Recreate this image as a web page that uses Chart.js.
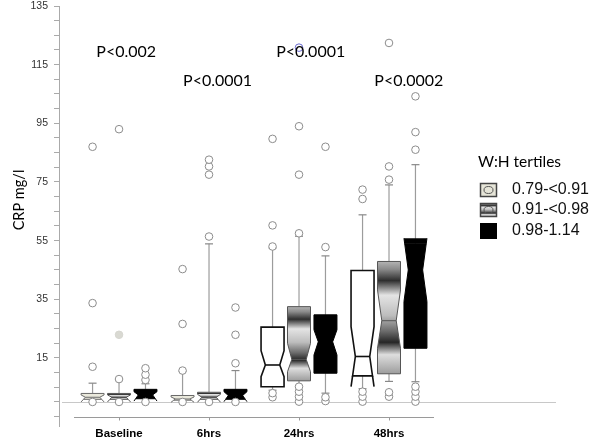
<!DOCTYPE html>
<html><head><meta charset="utf-8">
<script src="https://cdn.jsdelivr.net/npm/chart.js@4.4.1/dist/chart.umd.min.js"></script>
<style>html,body{margin:0;padding:0;background:#fff;}#wrap{width:600px;height:438px;position:relative;}</style>
</head><body><div id="wrap"><canvas id="c" width="600" height="438"></canvas></div>
<script>
// ---------- DATA ----------
const categories = ['Baseline', '6hrs', '24hrs', '48hrs'];
const seriesNames = ['0.79-<0.91', '0.91-<0.98', '0.98-1.14'];
const legendTitle = 'W:H tertiles';
const yTitle = 'CRP mg/l';
const yTickLabels = [15, 35, 55, 75, 95, 115, 135];
const pLabels = ['P<0.002', 'P<0.0001', 'P<0.0001', 'P<0.0002'];
const pLevels = [119.5, 109.5, 119.5, 109.5];

// series 1: 0.79-<0.91
const s1WhiskLow = [0.9, 0.6, 4.0, 4.5];
const s1Q1       = [0.9, 0.6, 5.2, 8.9];
const s1NotchLow = [0.0, -0.1, 8.6, 5.2];
const s1Median   = [1.6, 1.0, 12.6, 15.5];
const s1NotchHigh= [2.4, 1.7, 17.5, 25.7];
const s1Q3       = [2.9, 2.2, 25.5, 44.8];
const s1WhiskHigh= [6.4, 10.5, 52.5, 63.8];
const s1Outliers = [[0, 12, 33.7, 87], [0, 10.7, 26.6, 45.3], [1.6, 3, 53, 60.2, 89.7], [0.1, 1.8, 3.5, 69.2, 72.4]];

// series 2: 0.91-<0.98
const s2WhiskLow = [0.9, 0.9, 5.5, 7.0];
const s2Q1       = [0.9, 0.9, 7.2, 9.6];
const s2NotchLow = [0.0, -0.1, 10.3, 18.3];
const s2Median   = [1.6, 1.6, 14.5, 27.7];
const s2NotchHigh= [2.4, 2.6, 20.0, 38.2];
const s2Q3       = [2.9, 3.3, 32.5, 47.9];
const s2WhiskHigh= [7.5, 53.9, 56.5, 74.0];
const s2Outliers = [[0, 7.8, 22.9, 93], [0, 56.4, 77.5, 80.3, 82.6], [0.1, 1.8, 3.5, 5.2, 57.5, 77.5, 94, 120.8], [1.8, 3.3, 75.8, 80.3, 122.4]];

// series 3: 0.98-1.14
const s3WhiskLow = [1.1, 0.9, 3.0, 6.9];
const s3Q1       = [1.1, 0.9, 9.8, 18.3];
const s3NotchLow = [0.3, 0.1, 16.0, 34.2];
const s3Median   = [2.4, 2.2, 20.5, 45.0];
const s3NotchHigh= [3.5, 3.5, 24.6, 55.8];
const s3Q3       = [4.3, 4.3, 29.7, 53.9];
const s3WhiskHigh= [6.2, 10.7, 49.8, 80.9];
const s3Outliers = [[0, 7.5, 9.3, 11.5], [0, 13.2, 22.9, 32.2], [0.3, 1.6, 52.8, 87], [0.1, 1.8, 3.5, 5.2, 86, 92, 104.2]];

// highlighted outliers: [group, series, value]
const filledOutliers = [[0, 1, 22.9]];
const blueOutliers = [[2, 1, 120.8]];

// ---------- BUILD ----------
const seriesOffset = [-0.294, 0, 0.294];
const boxes = [
  {wl: s1WhiskLow, q1: s1Q1, nl: s1NotchLow, md: s1Median, nh: s1NotchHigh, q3: s1Q3, wh: s1WhiskHigh, out: s1Outliers},
  {wl: s2WhiskLow, q1: s2Q1, nl: s2NotchLow, md: s2Median, nh: s2NotchHigh, q3: s2Q3, wh: s2WhiskHigh, out: s2Outliers},
  {wl: s3WhiskLow, q1: s3Q1, nl: s3NotchLow, md: s3Median, nh: s3NotchHigh, q3: s3Q3, wh: s3WhiskHigh, out: s3Outliers}
];
function kindOf(g, s, v) {
  if (filledOutliers.some(a => a[0] === g && a[1] === s && a[2] === v)) return 'filled';
  if (blueOutliers.some(a => a[0] === g && a[1] === s && a[2] === v)) return 'blue';
  return 'plain';
}
const datasets = boxes.map((b, s) => ({
  label: seriesNames[s],
  data: b.out.flatMap((list, g) => list.map(v => ({x: g + seriesOffset[s], y: v, kind: kindOf(g, s, v)}))),
  pointRadius: 3.8,
  pointBorderWidth: 1,
  pointBorderColor: ctx => (ctx.raw && ctx.raw.kind === 'blue') ? '#6b6bd0' : (ctx.raw && ctx.raw.kind === 'filled' ? '#d6d6d0' : '#8c8c8c'),
  pointBackgroundColor: ctx => (ctx.raw && ctx.raw.kind === 'filled') ? '#d9d9d2' : 'rgba(255,255,255,1)'
}));

function s2Gradient(ctx, top, bottom) {
  const g = ctx.createLinearGradient(0, top, 0, bottom);
  g.addColorStop(0, '#b4b4b4');
  g.addColorStop(0.07, '#8a8a8a');
  g.addColorStop(0.17, '#2e2e2e');
  g.addColorStop(0.3, '#e4e4e4');
  g.addColorStop(0.48, '#bdbdbd');
  g.addColorStop(0.62, '#6c6c6c');
  g.addColorStop(0.72, '#262626');
  g.addColorStop(0.83, '#dedede');
  g.addColorStop(1, '#9c9c9c');
  return g;
}

const HW = 11.5, IND = 4.3;
const boxPlugin = {
  id: 'boxes',
  beforeDatasetsDraw(chart) {
    const ctx = chart.ctx, xs = chart.scales.x, ys = chart.scales.y;
    ctx.save();
    // zero reference line
    ctx.strokeStyle = '#c8c8c8'; ctx.lineWidth = 1;
    const y0 = Math.round(ys.getPixelForValue(0)) + 0.5;
    ctx.beginPath(); ctx.moveTo(62, y0); ctx.lineTo(556, y0); ctx.stroke();
    // x axis line
    const ya = Math.round(ys.getPixelForValue(-5)) + 0.5;
    ctx.strokeStyle = '#9a9a9a';
    ctx.beginPath(); ctx.moveTo(xs.getPixelForValue(-0.5), ya); ctx.lineTo(xs.getPixelForValue(3.5), ya); ctx.stroke();
    categories.forEach((c, i) => {
      const px = Math.round(xs.getPixelForValue(i)) + 0.5;
      ctx.beginPath(); ctx.moveTo(px, ya); ctx.lineTo(px, ya + 3); ctx.stroke();
    });
    boxes.forEach((b, s) => {
      categories.forEach((c, g) => {
        const cx = xs.getPixelForValue(g + seriesOffset[s]);
        const Y = v => ys.getPixelForValue(v);
        const q1 = b.q1[g], q3 = b.q3[g], md = b.md[g], nl = b.nl[g], nh = b.nh[g];
        const w = v => {
          if (v >= nl && v <= md) return HW - IND * (v - nl) / (md - nl);
          if (v > md && v <= nh) return HW - IND * (nh - v) / (nh - md);
          return HW;
        };
        // whiskers
        ctx.strokeStyle = '#9c9c9c'; ctx.lineWidth = 1.2;
        ctx.beginPath(); ctx.moveTo(cx, Y(q3)); ctx.lineTo(cx, Y(b.wh[g])); ctx.stroke();
        ctx.strokeStyle = '#888';
        ctx.beginPath(); ctx.moveTo(cx - 4, Y(b.wh[g])); ctx.lineTo(cx + 4, Y(b.wh[g])); ctx.stroke();
        if (b.wl[g] < q1 - 0.05) {
          ctx.strokeStyle = '#9c9c9c';
          ctx.beginPath(); ctx.moveTo(cx, Y(q1)); ctx.lineTo(cx, Y(b.wl[g])); ctx.stroke();
          ctx.strokeStyle = '#888';
          ctx.beginPath(); ctx.moveTo(cx - 4, Y(b.wl[g])); ctx.lineTo(cx + 4, Y(b.wl[g])); ctx.stroke();
        }
        // box polygon
        const vals = [q3];
        if (nh < q3 && nh > q1) vals.push(nh);
        if (md < q3 && md > q1) vals.push(md);
        if (nl > q1 && nl < q3) vals.push(nl);
        vals.push(q1);
        ctx.beginPath();
        vals.forEach((v, i) => { const p = [cx - w(v), Y(v)]; i ? ctx.lineTo(p[0], p[1]) : ctx.moveTo(p[0], p[1]); });
        vals.slice().reverse().forEach(v => ctx.lineTo(cx + w(v), Y(v)));
        ctx.closePath();
        let fill, stroke, lw = 1;
        if (s === 0) { fill = g < 2 ? '#eae9dc' : '#ffffff'; stroke = g < 2 ? '#6a6a6a' : '#111'; lw = g < 2 ? 1 : 1.6; }
        else if (s === 1) { fill = s2Gradient(ctx, Y(q3), Y(q1)); stroke = '#555'; }
        else { fill = '#000'; stroke = '#000'; }
        ctx.fillStyle = fill; ctx.fill();
        ctx.strokeStyle = stroke; ctx.lineWidth = lw; ctx.stroke();
        // notch extensions beyond the hinges
        ctx.beginPath();
        if (nh > q3) {
          ctx.moveTo(cx - w(q3), Y(q3)); ctx.lineTo(cx - HW, Y(nh));
          ctx.moveTo(cx + w(q3), Y(q3)); ctx.lineTo(cx + HW, Y(nh));
        }
        if (nl < q1) {
          ctx.moveTo(cx - w(q1), Y(q1)); ctx.lineTo(cx - HW, Y(nl));
          ctx.moveTo(cx + w(q1), Y(q1)); ctx.lineTo(cx + HW, Y(nl));
        }
        ctx.stroke();
        if (nh > q3 && s === 2) {
          ctx.beginPath();
          ctx.moveTo(cx - w(q3), Y(q3)); ctx.lineTo(cx - HW, Y(nh)); ctx.lineTo(cx + HW, Y(nh)); ctx.lineTo(cx + w(q3), Y(q3)); ctx.closePath();
          ctx.fillStyle = '#000'; ctx.fill();
        }
        // median
        ctx.beginPath(); ctx.moveTo(cx - w(md), Y(md)); ctx.lineTo(cx + w(md), Y(md));
        ctx.strokeStyle = stroke; ctx.lineWidth = lw; ctx.stroke();
      });
    });
    ctx.restore();
  },
  afterDraw(chart) {
    const ctx = chart.ctx, xs = chart.scales.x, ys = chart.scales.y;
    ctx.save();
    // p-value labels
    const pShift = [0.08, 0.095, 0.13, 0.22];
    ctx.fillStyle = '#000'; ctx.font = '16px Lato'; ctx.textAlign = 'center'; ctx.textBaseline = 'middle';
    pLabels.forEach((t, i) => ctx.fillText(t, xs.getPixelForValue(i + pShift[i]), ys.getPixelForValue(pLevels[i])));
    // y title
    ctx.save(); ctx.translate(19, 200); ctx.rotate(-Math.PI / 2);
    ctx.font = '14.5px Lato'; ctx.fillStyle = '#000'; ctx.fillText(yTitle, 0, 0);
    ctx.restore();
    // legend
    ctx.textAlign = 'left'; ctx.font = '15.5px Lato'; ctx.fillStyle = '#000';
    ctx.fillText(legendTitle, 478, 162);
    const rowY = [190, 210, 231];
    seriesNames.forEach((n, i) => {
      const cy = rowY[i], x0 = 480, wBox = 17, hBox = 14;
      if (i === 2) { ctx.fillStyle = '#000'; ctx.fillRect(x0, cy - 8, wBox, 16); }
      else {
        ctx.fillStyle = i === 0 ? '#e6e5d8' : s2Gradient(ctx, cy - 7, cy + 7);
        ctx.fillRect(x0, cy - hBox / 2, wBox, hBox);
        ctx.strokeStyle = '#444'; ctx.lineWidth = 1.5;
        ctx.strokeRect(x0 + 0.5, cy - hBox / 2 + 0.5, wBox - 1, hBox - 1);
        ctx.beginPath(); ctx.ellipse(x0 + wBox / 2, cy, 4.5, 3.5, 0, 0, Math.PI * 2);
        ctx.strokeStyle = '#555'; ctx.lineWidth = 1; ctx.stroke();
      }
      ctx.fillStyle = '#111'; ctx.font = '16px "Liberation Sans"';
      ctx.fillText(n, 512, cy);
    });
    ctx.restore();
  }
};

new Chart(document.getElementById('c'), {
  type: 'scatter',
  data: {datasets},
  plugins: [boxPlugin],
  options: {
    responsive: false,
    devicePixelRatio: 1,
    animation: false,
    events: [],
    layout: {padding: {top: 0, right: 166, bottom: 0, left: 0}},
    plugins: {legend: {display: false}, tooltip: {enabled: false}},
    scales: {
      x: {
        type: 'linear', min: -0.667, max: 3.5,
        grid: {display: false, drawTicks: false, tickLength: 0}, border: {display: false},
        afterBuildTicks: s => { s.ticks = categories.map((c, i) => ({value: i})); },
        afterFit: s => { s.height = 12; s.paddingTop = 0; },
        ticks: {padding: 1, autoSkip: false, maxRotation: 0, color: '#000', font: {family: 'Liberation Sans', size: 11.5, weight: 'bold'},
          callback: v => categories[v] ?? ''}
      },
      y: {
        min: -8.2, max: 135,
        afterFit: s => { s.width = 59; s.paddingTop = 6; s.paddingBottom = 0; },
        grid: {drawOnChartArea: false, drawTicks: true, tickLength: 5, color: '#aaa'},
        border: {display: true, color: '#aaa'},
        ticks: {stepSize: 5, includeBounds: false, autoSkip: false, padding: 6, color: '#333',
          font: {family: 'Liberation Sans', size: 10.5},
          callback: v => yTickLabels.includes(v) ? String(v) : ''}
      }
    }
  }
});
</script></body></html>
